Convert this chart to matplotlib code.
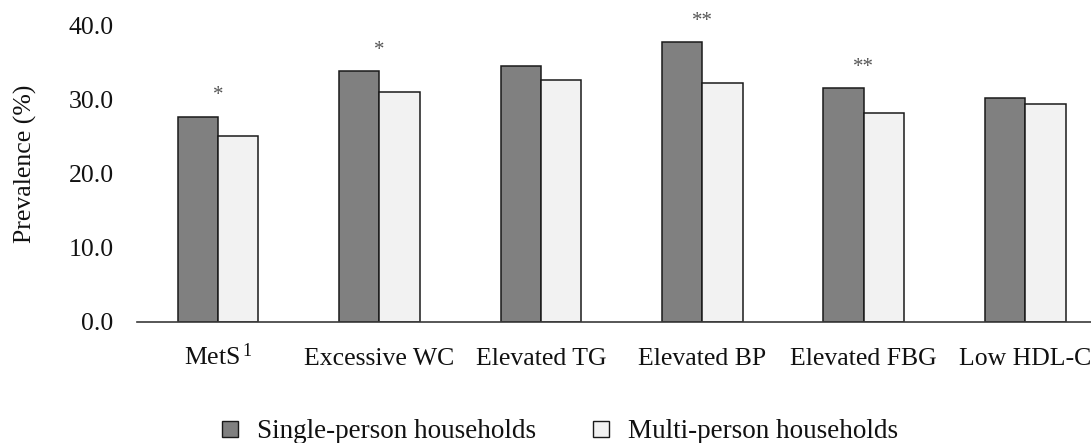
import numpy as np
import matplotlib.pyplot as plt
from matplotlib.patches import Patch

categories = ['MetS$^{\\,1}$', 'Excessive WC', 'Elevated TG', 'Elevated BP', 'Elevated FBG', 'Low HDL-C']
single = [27.7, 33.9, 34.5, 37.8, 31.6, 30.2]
multi = [25.1, 31.1, 32.7, 32.2, 28.2, 29.4]
signif = ['*', '*', '', '**', '**', '']
yticks = [0, 10, 20, 30, 40]

plt.rcParams['font.family'] = ['Liberation Serif', 'DejaVu Serif']
plt.rcParams['mathtext.default'] = 'regular'

fs = 18.5
fig = plt.figure(figsize=(10.91, 4.43), dpi=100)
ax = fig.add_axes([0.1258, 0.2738, 0.888, 0.668])

x = np.arange(len(categories))
w = 0.25
edge = '#1a1a1a'
ax.bar(x - w / 2, single, w, color='#808080', edgecolor=edge, linewidth=1.1, zorder=3)
ax.bar(x + w / 2, multi, w, color='#f2f2f2', edgecolor=edge, linewidth=1.1, zorder=3)

# significance markers above each pair
for i, s in enumerate(signif):
    if s:
        ax.annotate(s, (x[i], single[i]), xytext=(0, 15), textcoords='offset points',
                    ha='center', va='center', fontsize=15, color='#555555')

ax.set_xlim(-0.5, len(categories) - 0.5)
ax.set_ylim(0, 40)
ax.set_yticks(yticks)
ax.set_yticklabels([f'{v:.1f}' for v in yticks])
ax.set_xticks(x)
ax.set_xticklabels(categories)
ax.tick_params(axis='both', length=0, labelsize=fs, colors='#111111')
ax.tick_params(axis='y', pad=17)
ax.tick_params(axis='x', pad=31)
# baseline alignment keeps the superscript label level with the others
for lbl in ax.get_xticklabels():
    lbl.set_va('baseline')

for side in ['left', 'right', 'top']:
    ax.spines[side].set_visible(False)
ax.spines['bottom'].set_color('#3a3a3a')
ax.spines['bottom'].set_linewidth(1.2)
ax.spines['bottom'].set_zorder(4)

ax.set_ylabel('Prevalence (%)', fontsize=fs, color='#111111')
ax.yaxis.set_label_coords(-0.103, 0.533)

handles = [Patch(facecolor='#808080', edgecolor=edge, linewidth=1.0, label='Single-person households'),
           Patch(facecolor='#f2f2f2', edgecolor=edge, linewidth=1.0, label='Multi-person households')]
fig.legend(handles=handles, loc='center', bbox_to_anchor=(560 / 1091, 1 - 432 / 443), ncol=2,
           frameon=False, fontsize=19.5, handlelength=0.58, handleheight=0.58,
           handletextpad=0.7, columnspacing=2.1, labelcolor='#111111')

fig.savefig('out.png', dpi=100)
